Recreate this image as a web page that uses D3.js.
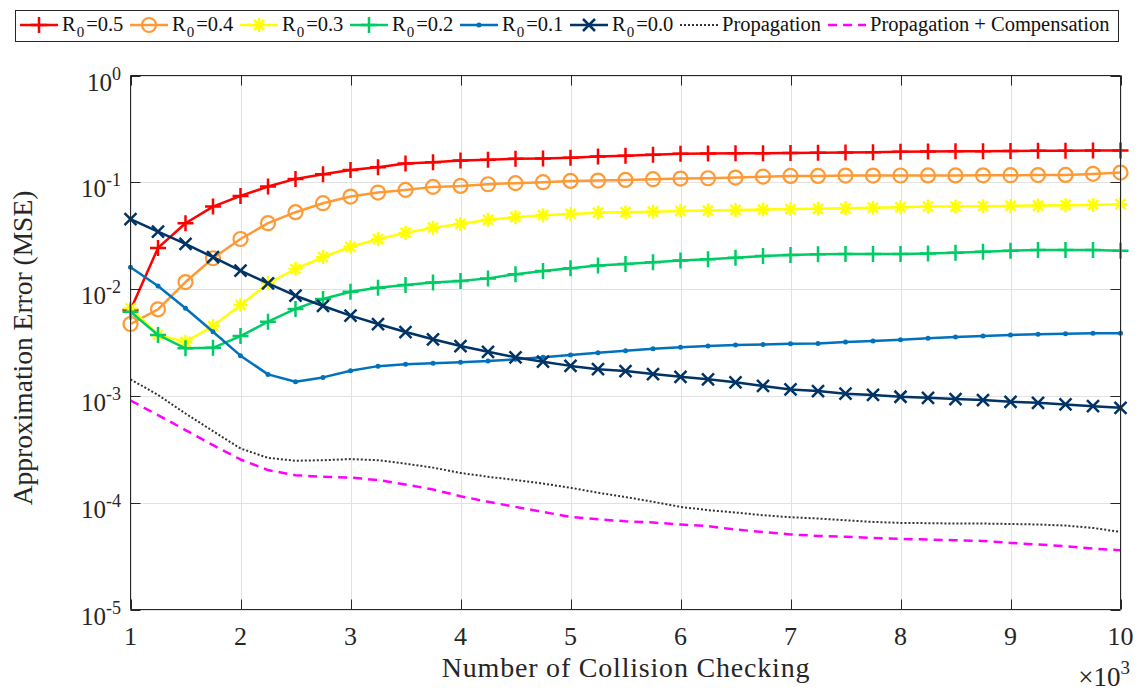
<!doctype html>
<html>
<head>
<script src="https://d3js.org/d3.v7.min.js"></script>
<style>
    body { margin: 0; background: #fff; }
    svg { font-family: "Liberation Serif", "Times New Roman", serif; }
    .grid line { stroke: #e2e2e2; stroke-width: 1; }
    .frame line { stroke: #262626; stroke-width: 1; }
</style>
</head>
<body>
<svg id="chart" width="1142" height="691"></svg>
<script>
// collision checks (x 10^3)
var checks = [1, 1.25, 1.5, 1.75, 2, 2.25, 2.5, 2.75, 3, 3.25, 3.5, 3.75, 4, 4.25, 4.5, 4.75,
    5, 5.25, 5.5, 5.75, 6, 6.25, 6.5, 6.75, 7, 7.25, 7.5, 7.75, 8, 8.25, 8.5, 8.75, 9, 9.25, 9.5, 9.75, 10];

var r05 = [0.00637, 0.0243, 0.0414, 0.0592, 0.0746, 0.0912, 0.1076, 0.1191, 0.1306, 0.1384, 0.150, 0.154,
    0.160, 0.163, 0.166, 0.167, 0.170, 0.174, 0.177, 0.181, 0.185, 0.186, 0.187, 0.187, 0.188, 0.189, 0.190,
    0.191, 0.193, 0.194, 0.195, 0.195, 0.196, 0.197, 0.197, 0.198, 0.199];
var r04 = [0.00471, 0.00647, 0.01164, 0.01945, 0.02944, 0.0414, 0.0525, 0.0637, 0.0735, 0.0802, 0.0849, 0.0906,
    0.0925, 0.0959, 0.0982, 0.1002, 0.1030, 0.1038, 0.1052, 0.1069, 0.1084, 0.1091, 0.1107, 0.1130, 0.1148, 0.1148,
    0.1156, 0.1156, 0.1158, 0.1160, 0.1160, 0.1162, 0.1165, 0.1168, 0.1172, 0.1199, 0.1233];
var r03 = [0.00661, 0.00372, 0.00321, 0.00451, 0.00710, 0.01132, 0.01542, 0.01995, 0.0249, 0.0293, 0.0336, 0.0376,
    0.0407, 0.0445, 0.0471, 0.0492, 0.0506, 0.0520, 0.0525, 0.0531, 0.0540, 0.0543, 0.0551, 0.0555, 0.0562, 0.0564,
    0.0571, 0.0579, 0.0585, 0.0592, 0.0592, 0.0597, 0.0601, 0.0605, 0.0610, 0.0614, 0.0624];
var r02 = [0.00614, 0.00372, 0.00279, 0.00282, 0.00363, 0.00495, 0.00652, 0.00807, 0.00946, 0.0103, 0.0109, 0.0115,
    0.0119, 0.0126, 0.0138, 0.0148, 0.0157, 0.0166, 0.0172, 0.0178, 0.0185, 0.0190, 0.0197, 0.0204, 0.0209, 0.0212,
    0.0213, 0.0213, 0.0213, 0.0216, 0.0219, 0.0224, 0.0229, 0.0232, 0.0232, 0.0232, 0.0228];
var r01 = [0.0160, 0.0107, 0.00661, 0.00399, 0.00238, 0.00159, 0.001355, 0.00149, 0.00172, 0.00190, 0.00198, 0.00202,
    0.00207, 0.00212, 0.00220, 0.00230, 0.00241, 0.00254, 0.00265, 0.00276, 0.00286, 0.00293, 0.00299, 0.00303,
    0.00307, 0.00310, 0.00319, 0.00326, 0.00336, 0.00346, 0.00356, 0.00363, 0.00372, 0.00377, 0.00382, 0.00385, 0.00385];
var r00 = [0.0451, 0.0345, 0.0265, 0.0199, 0.0149, 0.0113, 0.00867, 0.00695, 0.00564, 0.00471, 0.00396, 0.00339,
    0.00293, 0.00259, 0.00230, 0.00209, 0.00191, 0.00178, 0.00171, 0.00160, 0.00151, 0.00143, 0.00134, 0.00124,
    0.00115, 0.00111, 0.00105, 0.00102, 0.000982, 0.000959, 0.000933, 0.000914, 0.000881, 0.000861, 0.000832,
    0.000802, 0.000774];
var propagation = [0.00143, 0.00102, 0.000684, 0.000468, 0.000322, 0.000263, 0.000247, 0.000250, 0.000256, 0.000250,
    0.000232, 0.000213, 0.000190, 0.000175, 0.000163, 0.000151, 0.000138, 0.000124, 0.000113, 0.000102, 0.0000914,
    0.0000851, 0.0000809, 0.0000764, 0.0000731, 0.0000711, 0.0000685, 0.0000661, 0.0000647, 0.0000643, 0.0000638,
    0.0000638, 0.0000632, 0.0000625, 0.0000611, 0.0000581, 0.0000532];
var compensation = [0.000906, 0.000661, 0.000479, 0.000346, 0.000254, 0.000202, 0.000181, 0.000175, 0.000172,
    0.000163, 0.000148, 0.000133, 0.000115, 0.000102, 0.0000914, 0.0000820, 0.0000736, 0.0000700, 0.0000670,
    0.0000652, 0.0000625, 0.0000603, 0.0000561, 0.0000532, 0.0000504, 0.0000489, 0.0000479, 0.0000468, 0.0000458,
    0.0000452, 0.0000445, 0.0000439, 0.0000420, 0.0000406, 0.0000391, 0.0000372, 0.0000359];

var xTicks = [1, 2, 3, 4, 5, 6, 7, 8, 9, 10];
var yTicks = [1e-5, 1e-4, 1e-3, 1e-2, 1e-1, 1];
var yExps = ["-5", "-4", "-3", "-2", "-1", "0"];

var series = [
    {name: "0.5", sub: true, data: r05, color: "#ff0000", marker: "plus"},
    {name: "0.4", sub: true, data: r04, color: "#ff9933", marker: "circle"},
    {name: "0.3", sub: true, data: r03, color: "#ffff00", marker: "star"},
    {name: "0.2", sub: true, data: r02, color: "#00cc66", marker: "plus"},
    {name: "0.1", sub: true, data: r01, color: "#0072bd", marker: "dot"},
    {name: "0.0", sub: true, data: r00, color: "#003366", marker: "cross"},
    {name: "Propagation", data: propagation, color: "#333333", dash: "2,2", width: 2},
    {name: "Propagation + Compensation", data: compensation, color: "#ff00ff", dash: "9,6", width: 2.5}
];

var L = 130.5, R = 1120.5, T = 75.5, B = 609.5;
var x = d3.scaleLinear().domain([1, 10]).range([L, R]);
var y = d3.scaleLog().domain([1e-5, 1]).range([B, T]);

var svg = d3.select("#chart");

// grid
var grid = svg.append("g").attr("class", "grid");
grid.selectAll(".gx").data(xTicks).enter().append("line")
    .attr("x1", function(d) { return Math.round(x(d)) + 0.5; })
    .attr("x2", function(d) { return Math.round(x(d)) + 0.5; })
    .attr("y1", T).attr("y2", B);
grid.selectAll(".gy").data(yTicks).enter().append("line")
    .attr("y1", function(d) { return Math.round(y(d)) + 0.5; })
    .attr("y2", function(d) { return Math.round(y(d)) + 0.5; })
    .attr("x1", L).attr("x2", R);

function markerPath(type) {
    if (type == "plus") return "M-8,0H8M0,-8V8";
    if (type == "cross") return "M-6,-6L6,6M-6,6L6,-6";
    if (type == "star") return "M-7,0H7M0,-7V7M-5,-5L5,5M-5,5L5,-5";
    return null;
}

function drawMarker(g, type, color) {
    if (type == "circle") {
        g.append("circle").attr("r", 7).attr("fill", "none")
            .attr("stroke", color).attr("stroke-width", 2.2);
    } else if (type == "dot") {
        g.append("circle").attr("r", 2.5).attr("fill", color);
    } else {
        g.append("path").attr("d", markerPath(type)).attr("fill", "none")
            .attr("stroke", color).attr("stroke-width", 2.5);
    }
}

var line = d3.line()
    .x(function(d, i) { return x(checks[i]); })
    .y(function(d) { return y(d); });

var plot = svg.append("g");
series.forEach(function(s) {
    plot.append("path")
        .attr("d", line(s.data))
        .attr("fill", "none")
        .attr("stroke", s.color)
        .attr("stroke-width", s.width || 2.5)
        .attr("stroke-dasharray", s.dash || null)
        .attr("stroke-linejoin", "round");
    if (s.marker) {
        plot.append("g").selectAll("g").data(s.data).enter().append("g")
            .attr("transform", function(d, i) { return "translate(" + x(checks[i]) + "," + y(d) + ")"; })
            .each(function() { drawMarker(d3.select(this), s.marker, s.color); });
    }
});

// axes frame
var frame = svg.append("g").attr("class", "frame");
frame.append("line").attr("x1", L).attr("x2", R).attr("y1", B).attr("y2", B);
frame.append("line").attr("x1", L).attr("x2", R).attr("y1", T).attr("y2", T);
frame.append("line").attr("x1", L).attr("x2", L).attr("y1", T).attr("y2", B);
frame.append("line").attr("x1", R).attr("x2", R).attr("y1", T).attr("y2", B);
xTicks.forEach(function(v) {
    var px = Math.round(x(v)) + 0.5;
    frame.append("line").attr("x1", px).attr("x2", px).attr("y1", B).attr("y2", B - 10);
    frame.append("line").attr("x1", px).attr("x2", px).attr("y1", T).attr("y2", T + 10);
});
yTicks.forEach(function(v) {
    var py = Math.round(y(v)) + 0.5;
    frame.append("line").attr("x1", L).attr("x2", L + 10).attr("y1", py).attr("y2", py);
    frame.append("line").attr("x1", R).attr("x2", R - 10).attr("y1", py).attr("y2", py);
});

// tick labels
svg.append("g").selectAll("text").data(xTicks).enter().append("text")
    .attr("x", function(d) { return x(d); })
    .attr("y", 645)
    .attr("text-anchor", "middle")
    .attr("font-size", 26)
    .attr("fill", "#262626")
    .text(function(d) { return d; });

var yl = svg.append("g").selectAll("text").data(yTicks).enter().append("text")
    .attr("x", 121)
    .attr("y", function(d) { return y(d) + 15; })
    .attr("text-anchor", "end")
    .attr("font-size", 25)
    .attr("fill", "#262626");
yl.append("tspan").text("10");
yl.append("tspan").attr("dy", -11).attr("font-size", 18).text(function(d, i) { return yExps[i]; });

// axis titles
svg.append("text")
    .attr("x", 626).attr("y", 677)
    .attr("text-anchor", "middle")
    .attr("font-size", 28)
    .attr("letter-spacing", 0.8)
    .attr("fill", "#262626")
    .text("Number of Collision Checking");

svg.append("text")
    .attr("transform", "translate(32,348) rotate(-90)")
    .attr("text-anchor", "middle")
    .attr("font-size", 27.5)
    .attr("fill", "#262626")
    .text("Approximation Error (MSE)");

var mult = svg.append("text")
    .attr("x", 1130).attr("y", 686)
    .attr("text-anchor", "end")
    .attr("font-size", 27)
    .attr("fill", "#262626");
mult.append("tspan").text("\u00d710");
mult.append("tspan").attr("dy", -12).attr("font-size", 19).text("3");

// legend
var legend = svg.append("g");
legend.append("rect")
    .attr("x", 15.5).attr("y", 10.5)
    .attr("width", 1103).attr("height", 31)
    .attr("fill", "#fff").attr("stroke", "#262626").attr("stroke-width", 1);

var cx = 20;
series.forEach(function(s) {
    var g = legend.append("g");
    g.append("line")
        .attr("x1", cx).attr("x2", cx + 38)
        .attr("y1", 25).attr("y2", 25)
        .attr("stroke", s.color)
        .attr("stroke-width", s.width || 2.5)
        .attr("stroke-dasharray", s.dash || null);
    if (s.marker) {
        var m = g.append("g").attr("transform", "translate(" + (cx + 19) + ",25)");
        drawMarker(m, s.marker, s.color);
    }
    var t = g.append("text")
        .attr("x", cx + 42).attr("y", 31)
        .attr("font-size", 20.5)
        .attr("fill", "#111");
    if (s.sub) {
        t.append("tspan").text("R");
        t.append("tspan").attr("dy", 6).attr("dx", 1).attr("font-size", 15).text("0");
        t.append("tspan").attr("dy", -6).attr("dx", 2).text("=" + s.name);
        cx = cx + 110;
    } else {
        cx = cx + 42 + t.text(s.name).node().getComputedTextLength() + 7;
    }
});
</script>
</body>
</html>
